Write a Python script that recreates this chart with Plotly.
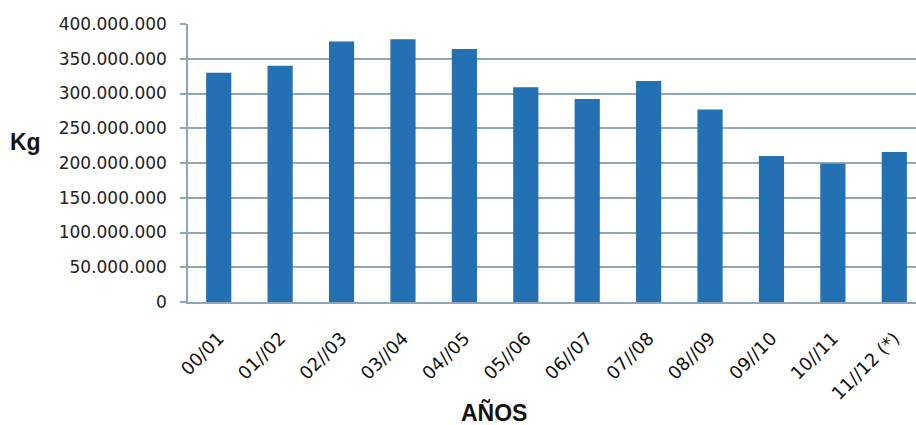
import plotly.graph_objects as go

categories = ["00/01", "01//02", "02//03", "03//04", "04//05", "05//06",
              "06//07", "07//08", "08//09", "09//10", "10//11", "11//12 (*)"]
values = [330e6, 340e6, 375e6, 378e6, 364e6, 309e6,
          292e6, 318e6, 277e6, 210e6, 199e6, 216e6]
y_ticks = [0, 50e6, 100e6, 150e6, 200e6, 250e6, 300e6, 350e6, 400e6]

grid = "#8fa6b8"
font = "DejaVu Sans"

L, R, T, B = 188, 0, 24, 123
W, H = 916, 425
pw = W - L - R
ph = H - T - B


def px_to_paper(x, y):
    return (x - L) / pw, (H - B - y) / ph


kx, ky = px_to_paper(25, 142)
ax_, ay_ = px_to_paper(494, 412)

fig = go.Figure(go.Bar(
    x=list(range(len(categories))), y=values,
    marker=dict(color="#2370b3", line=dict(width=0)),
    width=0.41,
))

fig.update_layout(
    width=W, height=H,
    margin=dict(l=L, r=R, t=T, b=B),
    paper_bgcolor="white", plot_bgcolor="white",
    showlegend=False,
    separators=",.",
    font=dict(family=font, size=16, color="#222222"),
    annotations=[
        dict(text="<b>Kg</b>", x=kx, y=ky, xref="paper", yref="paper",
             xanchor="center", yanchor="middle", showarrow=False,
             font=dict(family="Liberation Sans", size=23, color="#111111")),
        dict(text="<b>AÑOS</b>", x=ax_, y=ay_, xref="paper", yref="paper",
             xanchor="center", yanchor="middle", showarrow=False,
             font=dict(family="Liberation Sans", size=23, color="#111111")),
    ],
)

fig.update_xaxes(
    range=[-0.5, 11.5 - 9 / 61.36],
    tickmode="array", tickvals=list(range(len(categories))), ticktext=categories,
    tickangle=-45, showgrid=False, zeroline=False,
    showline=True, linecolor=grid, linewidth=1.5,
    ticklabelstandoff=17,
    tickfont=dict(family=font, size=18, color="#111111"),
)
fig.update_yaxes(
    range=[0, 400e6], tickmode="array", tickvals=y_ticks,
    tickformat=",d",
    showgrid=True, gridcolor=grid, gridwidth=1.5,
    zeroline=False, showline=True, linecolor=grid, linewidth=1.5,
    ticks="outside", ticklen=6, tickcolor=grid, tickwidth=1.5,
    ticklabelstandoff=10,
    tickfont=dict(family=font, size=17, color="#222222"),
)

fig.write_html("out.html")
